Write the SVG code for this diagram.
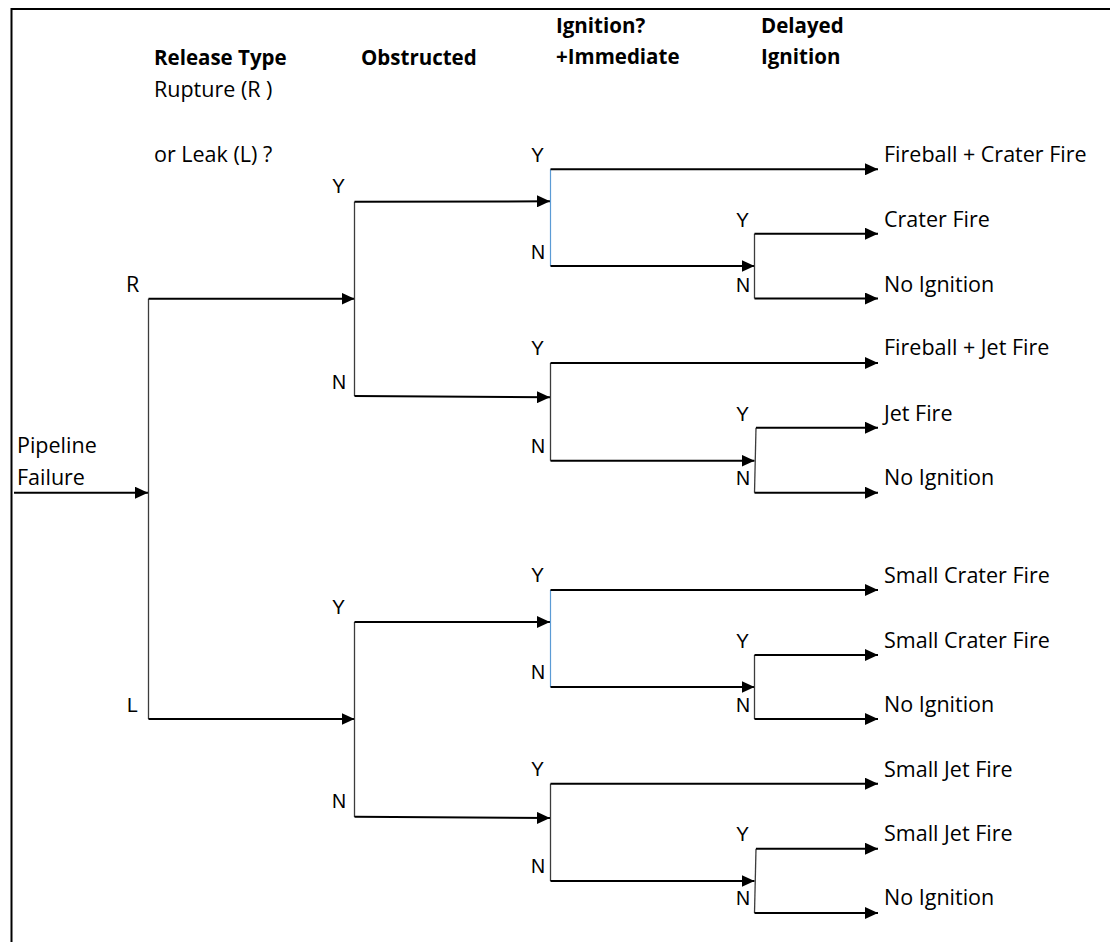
<svg xmlns="http://www.w3.org/2000/svg" width="1110" height="942" viewBox="0 0 1110 942">
<style>
.t{font-family:"Open Sans","Noto Sans","Liberation Sans",sans-serif;font-size:21.5px;fill:#000}
.b{font-weight:bold;font-size:20.5px}
.yn{font-family:"Liberation Sans",Arial,sans-serif;font-size:19.5px;fill:#000}
.h{fill:none;stroke:#000;stroke-width:2}
.v{fill:none;stroke:#3c3c3c;stroke-width:1.3}
.vb{fill:none;stroke:#5b9bd5;stroke-width:1.2}
.ar{marker-end:url(#ah)}
</style>
<defs>
<marker id="ah" markerUnits="userSpaceOnUse" markerWidth="14" markerHeight="12" refX="13" refY="6" orient="auto">
<path d="M0,0 L13,6 L0,12 z" fill="#000"/>
</marker>
</defs>
<rect width="1110" height="942" fill="#fff"/>
<path d="M11.5,942 V9 H1110" fill="none" stroke="#000" stroke-width="2"/>

<g id="headers">
<text class="t b" x="154" y="65">Release Type</text>
<text class="t" x="154" y="97">Rupture (R )</text>
<text class="t" x="154" y="162">or Leak (L) ?</text>
<text class="t b" x="361" y="65">Obstructed</text>
<text class="t b" x="556" y="33">Ignition?</text>
<text class="t b" x="556" y="64">+Immediate</text>
<text class="t b" x="761" y="33">Delayed</text>
<text class="t b" x="761" y="64">Ignition</text>
</g>

<g id="start"><text class="t" x="17" y="453">Pipeline</text><text class="t" x="17" y="485">Failure</text></g>

<g id="release-type">
<text class="t" x="126" y="292">R</text>
<text class="yn" x="127" y="712">L</text>
</g>

<g id="obstructed-R"><text class="yn" x="332" y="193">Y</text><text class="yn" x="332" y="389">N</text></g>
<g id="obstructed-L"><text class="yn" x="332" y="614">Y</text><text class="yn" x="332" y="808">N</text></g>

<g id="ignition-RY"><text class="yn" x="531" y="162">Y</text><text class="yn" x="531" y="259">N</text></g>
<g id="ignition-RN"><text class="yn" x="531" y="355">Y</text><text class="yn" x="531" y="453">N</text></g>
<g id="ignition-LY"><text class="yn" x="531" y="582">Y</text><text class="yn" x="531" y="679">N</text></g>
<g id="ignition-LN"><text class="yn" x="531" y="776">Y</text><text class="yn" x="531" y="873">N</text></g>

<g id="delayed-RY"><text class="yn" x="736" y="227">Y</text><text class="yn" x="736" y="292">N</text></g>
<g id="delayed-RN"><text class="yn" x="736" y="421">Y</text><text class="yn" x="736" y="485">N</text></g>
<g id="delayed-LY"><text class="yn" x="736" y="648">Y</text><text class="yn" x="736" y="712">N</text></g>
<g id="delayed-LN"><text class="yn" x="736" y="841">Y</text><text class="yn" x="736" y="905">N</text></g>

<g id="out1"><text class="t" x="884" y="162">Fireball + Crater Fire</text></g>
<g id="out2"><text class="t" x="884" y="227">Crater Fire</text></g>
<g id="out3"><text class="t" x="884" y="292">No Ignition</text></g>
<g id="out4"><text class="t" x="884" y="355">Fireball + Jet Fire</text></g>
<g id="out5"><text class="t" x="884" y="421">Jet Fire</text></g>
<g id="out6"><text class="t" x="884" y="485">No Ignition</text></g>
<g id="out7"><text class="t" x="884" y="583">Small Crater Fire</text></g>
<g id="out8"><text class="t" x="884" y="648">Small Crater Fire</text></g>
<g id="out9"><text class="t" x="884" y="712">No Ignition</text></g>
<g id="out10"><text class="t" x="884" y="777">Small Jet Fire</text></g>
<g id="out11"><text class="t" x="884" y="841">Small Jet Fire</text></g>
<g id="out12"><text class="t" x="884" y="905">No Ignition</text></g>

<g id="connectors">
<line class="h ar" x1="14" y1="492.7" x2="148" y2="492.7"/>
<line class="v" x1="148.5" y1="298.7" x2="148.5" y2="719"/>
<line class="h ar" x1="148.5" y1="298.7" x2="354.5" y2="298.7"/>
<line class="h ar" x1="148.5" y1="719" x2="354.5" y2="719"/>
<line class="v" x1="354.5" y1="201.7" x2="354.5" y2="396"/>
<line class="v" x1="354.5" y1="622" x2="354.5" y2="817"/>
<line class="h ar" x1="354.5" y1="201.7" x2="550" y2="201.3"/>
<line class="h ar" x1="354.5" y1="396" x2="550" y2="397.3"/>
<line class="h ar" x1="354.5" y1="622" x2="550" y2="622"/>
<line class="h ar" x1="354.5" y1="816.7" x2="550" y2="818"/>
<line class="vb" x1="550.5" y1="169.3" x2="550.5" y2="266"/>
<line class="v" x1="550.5" y1="363" x2="550.5" y2="460.7"/>
<line class="vb" x1="550.5" y1="590" x2="550.5" y2="687"/>
<line class="v" x1="550.5" y1="783.7" x2="550.5" y2="881"/>
<line class="h ar" x1="550.5" y1="169.3" x2="878" y2="169.3"/>
<line class="h ar" x1="550.5" y1="363" x2="878" y2="363"/>
<line class="h ar" x1="550.5" y1="590" x2="878" y2="590"/>
<line class="h ar" x1="550.5" y1="783.7" x2="878" y2="783.7"/>
<line class="h ar" x1="550.5" y1="266" x2="754.5" y2="266"/>
<line class="h ar" x1="550.5" y1="460.7" x2="754.5" y2="460.7"/>
<line class="h ar" x1="550.5" y1="687" x2="754.5" y2="687"/>
<line class="h ar" x1="550.5" y1="881" x2="754.5" y2="881"/>
<line class="v" x1="754.5" y1="233.7" x2="754.5" y2="298.5"/>
<line class="v" x1="756" y1="427.7" x2="754.5" y2="492.7"/>
<line class="v" x1="754.5" y1="655" x2="754.5" y2="719"/>
<line class="v" x1="756" y1="848.7" x2="754.5" y2="913"/>
<line class="h ar" x1="754.5" y1="233.7" x2="878" y2="233.7"/>
<line class="h ar" x1="754.5" y1="298.5" x2="878" y2="298.5"/>
<line class="h ar" x1="756" y1="427.7" x2="878" y2="427.7"/>
<line class="h ar" x1="754.5" y1="492.7" x2="878" y2="492.7"/>
<line class="h ar" x1="754.5" y1="655" x2="878" y2="655"/>
<line class="h ar" x1="754.5" y1="719" x2="878" y2="719"/>
<line class="h ar" x1="756" y1="848.7" x2="878" y2="848.7"/>
<line class="h ar" x1="754.5" y1="913" x2="878" y2="913"/>
</g>
</svg>
